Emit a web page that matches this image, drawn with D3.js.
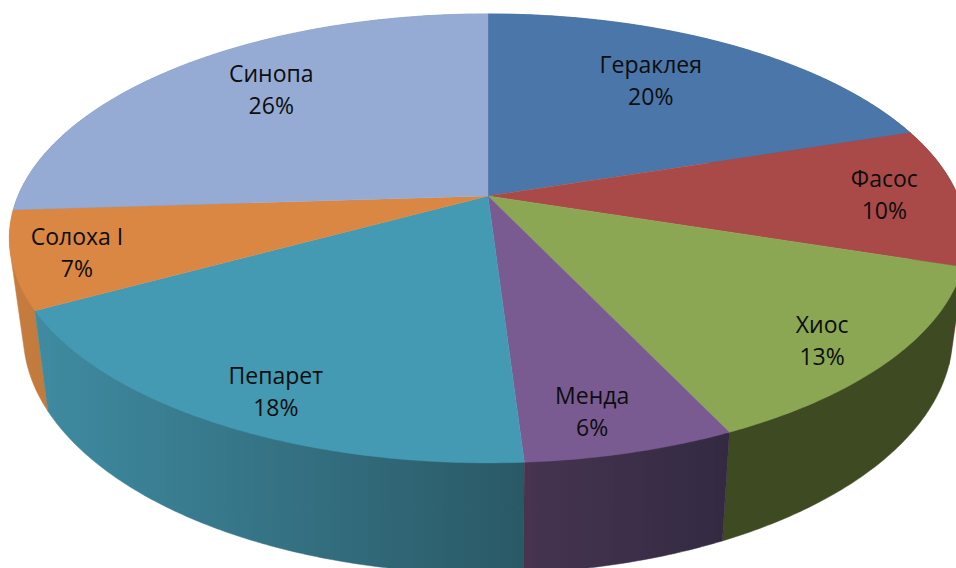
<!DOCTYPE html>
<html><head><meta charset="utf-8">
<script src="https://cdn.jsdelivr.net/npm/d3@7/dist/d3.min.js"></script>
<style>html,body{margin:0;padding:0;background:#fff;overflow:hidden}svg{display:block}</style>
</head><body><div id="chart"></div>
<script>
const categories = ["Гераклея","Фасос","Хиос","Менда","Пепарет","Солоха I","Синопа"];
const values = [20,10,13,6,18,7,26];
const topColors = ["#4a76a9","#aa4a48","#8ba753","#795b92","#4499b3","#d98743","#96abd3"];
const wallStart = ["#3c5f88","#8a3b3a","#3e4a22","#463450","#3f8ba1","#c67c3e","#7a8cad"];
const wallEnd   = ["#3c5f88","#6b2e2d","#3e4a22","#332a42","#2a5966","#c27a3d","#7a8cad"];
const labelRadius = [0.705,0.844,0.866,0.861,0.864,0.87,0.741];
const labelShift  = [-2.9,-0.3,1.8,1.9,-2.3,-0.5,3.5];

const W=956,H=568,cx=488,cy=196,R=470,S=216.5,k=0.189;
const depthY=93,bottomX=0.971,bottomY=1.066;

const svg=d3.select("#chart").append("svg").attr("width",W).attr("height",H);
const defs=svg.append("defs");
const pie=d3.pie().sort(null).value(d=>d)(values);

const proj=(a,r=1)=>{const x=r*Math.sin(a),z=-r*Math.cos(a),d=1-k*z;return [cx+R*x/d,cy+S*z/d];};
const projB=a=>{const x=Math.sin(a),z=-Math.cos(a),d=1-k*z;return [cx+R*bottomX*x/d,cy+depthY+S*bottomY*z/d];};
const samples=(a0,a1)=>{const n=Math.max(2,Math.ceil((a1-a0)/0.01));return d3.range(n+1).map(i=>a0+(a1-a0)*i/n);};
const line=d3.line();

const order=d3.range(pie.length).sort((p,q)=>{
  const mz=i=>-Math.cos((pie[i].startAngle+pie[i].endAngle)/2);return mz(p)-mz(q);});

// side walls: hull of the top and bottom rim of each slice
order.forEach(i=>{
  const s=pie[i],as=samples(s.startAngle,s.endAngle);
  const hull=d3.polygonHull(as.map(a=>proj(a)).concat(as.map(projB)));
  const xs=hull.map(p=>p[0]);
  const g=defs.append("linearGradient").attr("id","w"+i).attr("gradientUnits","userSpaceOnUse")
    .attr("x1",d3.min(xs)).attr("x2",d3.max(xs)).attr("y1",0).attr("y2",0);
  g.append("stop").attr("offset",0).attr("stop-color",wallStart[i]);
  g.append("stop").attr("offset",1).attr("stop-color",wallEnd[i]);
  svg.append("path").attr("d",line(hull)+"Z").attr("fill",`url(#w${i})`)
    .attr("stroke",`url(#w${i})`).attr("stroke-width",0.5);
});

// top faces
pie.forEach((s,i)=>{
  const pts=[[cx,cy]].concat(samples(s.startAngle,s.endAngle).map(a=>proj(a)));
  svg.append("path").attr("d",line(pts)+"Z").attr("fill",topColors[i])
    .attr("stroke",topColors[i]).attr("stroke-width",0.4);
});

// labels
pie.forEach((s,i)=>{
  const a=(s.startAngle+s.endAngle)/2+labelShift[i]*Math.PI/180;
  const [x,y]=proj(a,labelRadius[i]);
  const t=svg.append("text").attr("text-anchor","middle").attr("font-family","'Open Sans',sans-serif")
    .attr("font-size",23).attr("fill","#0d0d0d");
  t.append("tspan").attr("x",x).attr("y",y-8).text(categories[i]);
  t.append("tspan").attr("x",x).attr("y",y+24).text(values[i]+"%");
});
</script></body></html>
